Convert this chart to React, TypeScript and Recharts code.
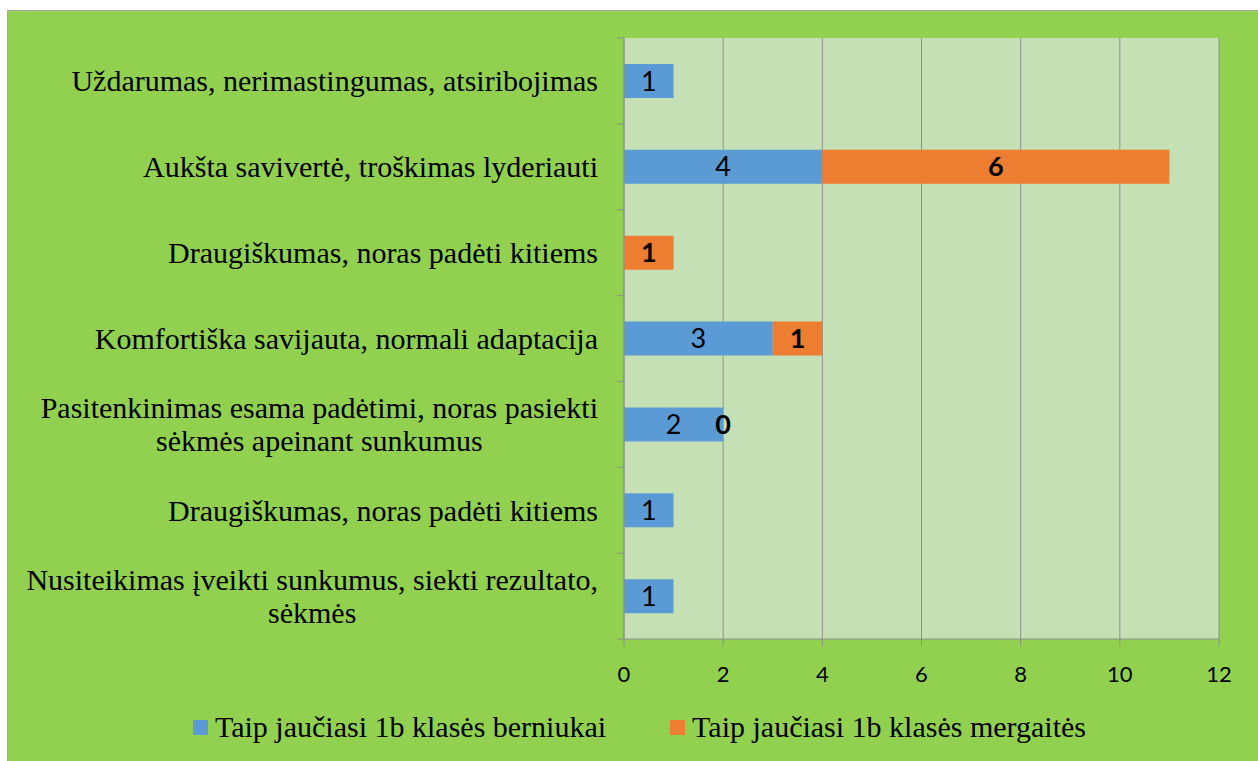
import React from "react";
import { BarChart, Bar, XAxis, YAxis, CartesianGrid, LabelList, Legend } from "recharts";

// categories, top to bottom as they appear in the chart (line breaks as in the picture)
const categoryLines: string[][] = [
  ["Uždarumas, nerimastingumas, atsiribojimas"],
  ["Aukšta savivertė, troškimas lyderiauti"],
  ["Draugiškumas, noras padėti kitiems"],
  ["Komfortiška savijauta, normali adaptacija"],
  ["Pasitenkinimas esama padėtimi, noras pasiekti", "sėkmės apeinant sunkumus"],
  ["Draugiškumas, noras padėti kitiems"],
  ["Nusiteikimas įveikti sunkumus, siekti rezultato,", "sėkmės"],
];

const berniukai = [1, 4, 0, 3, 2, 1, 1];
const mergaites = [0, 7, 1, 1, 0, 0, 0];

// data labels as printed on the bars
const berniukaiLabels = ["1", "4", "", "3", "2", "1", "1"];
const mergaitesLabels = ["", "6", "1", "1", "0", "", ""];

const xTicks = [0, 2, 4, 6, 8, 10, 12];
const seriesNames = ["Taip jaučiasi 1b klasės berniukai", "Taip jaučiasi 1b klasės mergaitės"];

const data = categoryLines.map((lines, i) => ({
  name: lines.join(" "),
  b: berniukai[i],
  g: mergaites[i],
  bl: berniukaiLabels[i],
  gl: mergaitesLabels[i],
  // a girls' label on an empty (zero) segment sits at the end of the boys' bar
  gzl: mergaites[i] === 0 ? mergaitesLabels[i] : "",
}));

const W = 1250;
const H = 750;
const AXIS_X = 616;
const PLOT_TOP = 27;
const PLOT_BOTTOM = 628;
const BAND = (PLOT_BOTTOM - PLOT_TOP) / categoryLines.length;
const GRAY = "#8f8f8f";
const BLUE = "#5B9BD5";
const ORANGE = "#ED7D31";
const SERIF = '"Liberation Serif", "Times New Roman", serif';
const CAT_SIZE = 30;
const LABEL_SIZE = 27;

let ctx: CanvasRenderingContext2D | null = null;
function textWidth(s: string) {
  if (!ctx) ctx = document.createElement("canvas").getContext("2d");
  if (!ctx) return s.length * 13;
  ctx.font = `${CAT_SIZE}px "Liberation Serif"`;
  return ctx.measureText(s).width;
}

function CategoryTick(props: any) {
  const { y, index } = props;
  const lines = categoryLines[index] || [];
  const right = AXIS_X - 26;
  const maxW = Math.max(...lines.map(textWidth));
  const cx = right - maxW / 2;
  const lh = 33;
  const startY = y - ((lines.length - 1) * lh) / 2;
  return (
    <g>
      <line x1={AXIS_X - 7} x2={AXIS_X} y1={y - BAND / 2} y2={y - BAND / 2} stroke={GRAY} />
      {index === categoryLines.length - 1 && (
        <line x1={AXIS_X - 7} x2={AXIS_X} y1={y + BAND / 2} y2={y + BAND / 2} stroke={GRAY} />
      )}
      <text x={cx} textAnchor="middle" fontFamily={SERIF} fontSize={CAT_SIZE} fill="#000">
        {lines.map((l, i) => (
          <tspan key={i} x={cx} y={startY + i * lh} dy="0.35em">
            {l}
          </tspan>
        ))}
      </text>
    </g>
  );
}

function ZeroLabel(props: any) {
  const { x, y, width, height, value } = props;
  if (!value) return null;
  return (
    <text
      x={x + width}
      y={y + height / 2}
      dy="0.35em"
      textAnchor="middle"
      fill="#000"
      fontFamily="Lato"
      fontSize={LABEL_SIZE}
      fontWeight="bold"
    >
      {value}
    </text>
  );
}

function LegendBox() {
  const items = [
    { name: seriesNames[0], color: BLUE },
    { name: seriesNames[1], color: ORANGE },
  ];
  return (
    <div
      style={{
        height: 50,
        display: "flex",
        alignItems: "center",
        justifyContent: "center",
        gap: 64,
        paddingLeft: 52,
        fontFamily: SERIF,
        fontSize: CAT_SIZE,
        color: "#000",
      }}
    >
      {items.map((it) => (
        <div key={it.name} style={{ display: "flex", alignItems: "center" }}>
          <span style={{ width: 15, height: 15, background: it.color, marginRight: 7, display: "inline-block" }} />
          <span>{it.name}</span>
        </div>
      ))}
    </div>
  );
}

export default function App() {
  return (
    <div style={{ position: "fixed", left: 0, top: 0, width: 1258, height: 761, background: "#fff", overflow: "hidden" }}>
      <div
        style={{
          position: "absolute",
          left: 7,
          top: 10,
          width: W,
          height: H,
          background: "#92D050",
          borderLeft: "1px solid #a6a6a6",
          borderTop: "1px solid #a6a6a6",
        }}
      >
        <BarChart
          width={W}
          height={H}
          data={data}
          layout="vertical"
          margin={{ top: PLOT_TOP, right: W - 1211, left: 0, bottom: 9 }}
        >
          <CartesianGrid horizontal={false} stroke={GRAY} fill="#C5E0B4" fillOpacity={1} />
          <XAxis
            type="number"
            domain={[0, 12]}
            ticks={xTicks}
            interval={0}
            height={63}
            axisLine={{ stroke: GRAY }}
            tickLine={{ stroke: GRAY }}
            tickSize={7}
            tickMargin={20}
            tick={{ fill: "#000", fontFamily: "Lato", fontSize: 22 }}
          />
          <YAxis
            type="category"
            dataKey="name"
            width={AXIS_X}
            interval={0}
            axisLine={{ stroke: GRAY }}
            tickLine={false}
            tick={<CategoryTick />}
          />
          <Legend verticalAlign="bottom" content={<LegendBox />} />
          <Bar dataKey="b" name={seriesNames[0]} stackId="s" fill={BLUE} barSize={34} isAnimationActive={false}>
            <LabelList dataKey="bl" position="center" fill="#000" fontFamily="Lato" fontSize={LABEL_SIZE} />
            <LabelList dataKey="gzl" content={<ZeroLabel />} />
          </Bar>
          <Bar dataKey="g" name={seriesNames[1]} stackId="s" fill={ORANGE} barSize={34} isAnimationActive={false}>
            <LabelList dataKey="gl" position="center" fill="#000" fontFamily="Lato" fontSize={LABEL_SIZE} fontWeight="bold" />
          </Bar>
        </BarChart>
      </div>
    </div>
  );
}
